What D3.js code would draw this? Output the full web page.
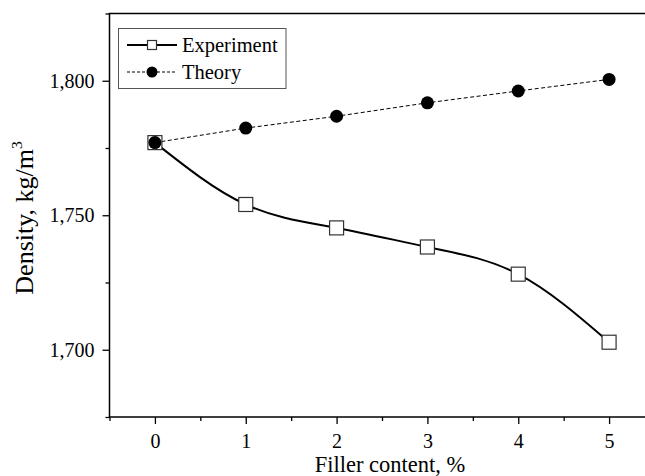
<!DOCTYPE html>
<meta charset="utf-8">
<html lang="en">
<style>
body { margin: 0; background: #ffffff; }
svg text { font-family: "Liberation Serif", "Times New Roman", Times, serif; fill: #000; }
</style>
<head>
	<script src="https://d3js.org/d3.v7.min.js"></script>
</head>
<body>
<div id="my_dataviz"></div>
<script>

// data
var filler = [0, 1, 2, 3, 4, 5]
var experiment = [1777, 1754, 1745.3, 1738.2, 1728.1, 1702.8]
var theory = [1777, 1782.4, 1786.8, 1791.8, 1796.2, 1800.5]
var xTicks = [0, 1, 2, 3, 4, 5]
var yTicks = [1700, 1750, 1800]

var width = 645
var height = 476
var serif = "'Liberation Serif', 'Times New Roman', Times, serif"

var svg = d3.select("#my_dataviz")
	.append("svg")
	.attr("width", width)
	.attr("height", height)
	.style("font-family", serif)

var x = d3.scaleLinear().domain([-0.5, 5.5]).range([109.5, 654.5])
var y = d3.scaleLinear().domain([1675, 1825]).range([417, 13.5])

// frame
svg.append("rect")
	.attr("x", x(-0.5))
	.attr("y", y(1825))
	.attr("width", x(5.5) - x(-0.5))
	.attr("height", y(1675) - y(1825))
	.attr("fill", "none")
	.attr("stroke", "#000")
	.attr("stroke-width", 1.5)

// bottom axis, major + minor ticks pointing out
var xAxis = svg.append("g")
	.attr("transform", "translate(0," + y(1675) + ")")
	.call(d3.axisBottom(x).tickValues(xTicks).tickSize(7).tickPadding(10).tickFormat(d3.format("d")))
xAxis.attr("font-family", serif)
xAxis.select(".domain").remove()
xAxis.selectAll("text").style("font-size", "20px")
xAxis.selectAll("line").attr("stroke-width", 1.3)

var xMinor = svg.append("g")
	.attr("transform", "translate(0," + y(1675) + ")")
	.call(d3.axisBottom(x).tickValues([-0.5, 0.5, 1.5, 2.5, 3.5, 4.5, 5.5]).tickSize(4).tickFormat(""))
xMinor.select(".domain").remove()
xMinor.selectAll("line").attr("stroke-width", 1.3)

// left axis
var yAxis = svg.append("g")
	.attr("transform", "translate(" + x(-0.5) + ",0)")
	.call(d3.axisLeft(y).tickValues(yTicks).tickSize(7).tickPadding(8).tickFormat(d3.format(",")))
yAxis.attr("font-family", serif)
yAxis.select(".domain").remove()
yAxis.selectAll("text").style("font-size", "20px")
yAxis.selectAll("line").attr("stroke-width", 1.3)

var yMinor = svg.append("g")
	.attr("transform", "translate(" + x(-0.5) + ",0)")
	.call(d3.axisLeft(y).tickValues([1675, 1725, 1775, 1825]).tickSize(4).tickFormat(""))
yMinor.select(".domain").remove()
yMinor.selectAll("line").attr("stroke-width", 1.3)

// axis titles
svg.append("text")
	.attr("x", 390)
	.attr("y", 472)
	.attr("text-anchor", "middle")
	.style("font-size", "22.5px")
	.text("Filler content, %")

var yTitle = svg.append("text")
	.attr("transform", "translate(33," + 218 + ") rotate(-90)")
	.attr("text-anchor", "middle")
	.style("font-size", "26px")
yTitle.append("tspan").text("Density, kg/m")
yTitle.append("tspan").attr("dy", -11).style("font-size", "15.5px").text("3")

// theory: dashed line with filled circles
var theoryData = filler.map(function (d, i) { return [d, theory[i]] })
var expData = filler.map(function (d, i) { return [d, experiment[i]] })

svg.append("path")
	.datum(theoryData)
	.attr("fill", "none")
	.attr("stroke", "#000")
	.attr("stroke-width", 1)
	.attr("stroke-dasharray", "4,2.5")
	.attr("d", d3.line().x(function (d) { return x(d[0]) }).y(function (d) { return y(d[1]) }))

// experiment: smooth solid curve with open squares
svg.append("path")
	.datum(expData)
	.attr("fill", "none")
	.attr("stroke", "#000")
	.attr("stroke-width", 2)
	.attr("d", d3.line().curve(d3.curveNatural).x(function (d) { return x(d[0]) }).y(function (d) { return y(d[1]) }))

var sq = 14
svg.selectAll(".sq")
	.data(expData)
	.enter()
	.append("rect")
	.attr("class", "sq")
	.attr("x", function (d) { return x(d[0]) - sq / 2 })
	.attr("y", function (d) { return y(d[1]) - sq / 2 })
	.attr("width", sq)
	.attr("height", sq)
	.attr("fill", "#fff")
	.attr("stroke", "#333")
	.attr("stroke-width", 1.2)

svg.selectAll(".dot")
	.data(theoryData)
	.enter()
	.append("circle")
	.attr("class", "dot")
	.attr("cx", function (d) { return x(d[0]) })
	.attr("cy", function (d) { return y(d[1]) })
	.attr("r", 6.5)
	.attr("fill", "#000")

// legend
var legend = svg.append("g")
legend.append("rect")
	.attr("x", 118.5)
	.attr("y", 28.5)
	.attr("width", 167.5)
	.attr("height", 60)
	.attr("fill", "#fff")
	.attr("stroke", "#555")
	.attr("stroke-width", 1)

legend.append("line")
	.attr("x1", 127).attr("x2", 177).attr("y1", 45).attr("y2", 45)
	.attr("stroke", "#000").attr("stroke-width", 2)
legend.append("rect")
	.attr("x", 147.5).attr("y", 40.5).attr("width", 9).attr("height", 9)
	.attr("fill", "#fff").attr("stroke", "#333").attr("stroke-width", 1.2)
legend.append("text")
	.attr("x", 182).attr("y", 52)
	.style("font-size", "20.5px")
	.text("Experiment")

legend.append("line")
	.attr("x1", 127).attr("x2", 177).attr("y1", 72).attr("y2", 72)
	.attr("stroke", "#000").attr("stroke-width", 1).attr("stroke-dasharray", "3,2")
legend.append("circle")
	.attr("cx", 152).attr("cy", 72).attr("r", 5.5)
	.attr("fill", "#000")
legend.append("text")
	.attr("x", 182).attr("y", 79)
	.style("font-size", "20.5px")
	.text("Theory")

</script>
</body>
</html>
